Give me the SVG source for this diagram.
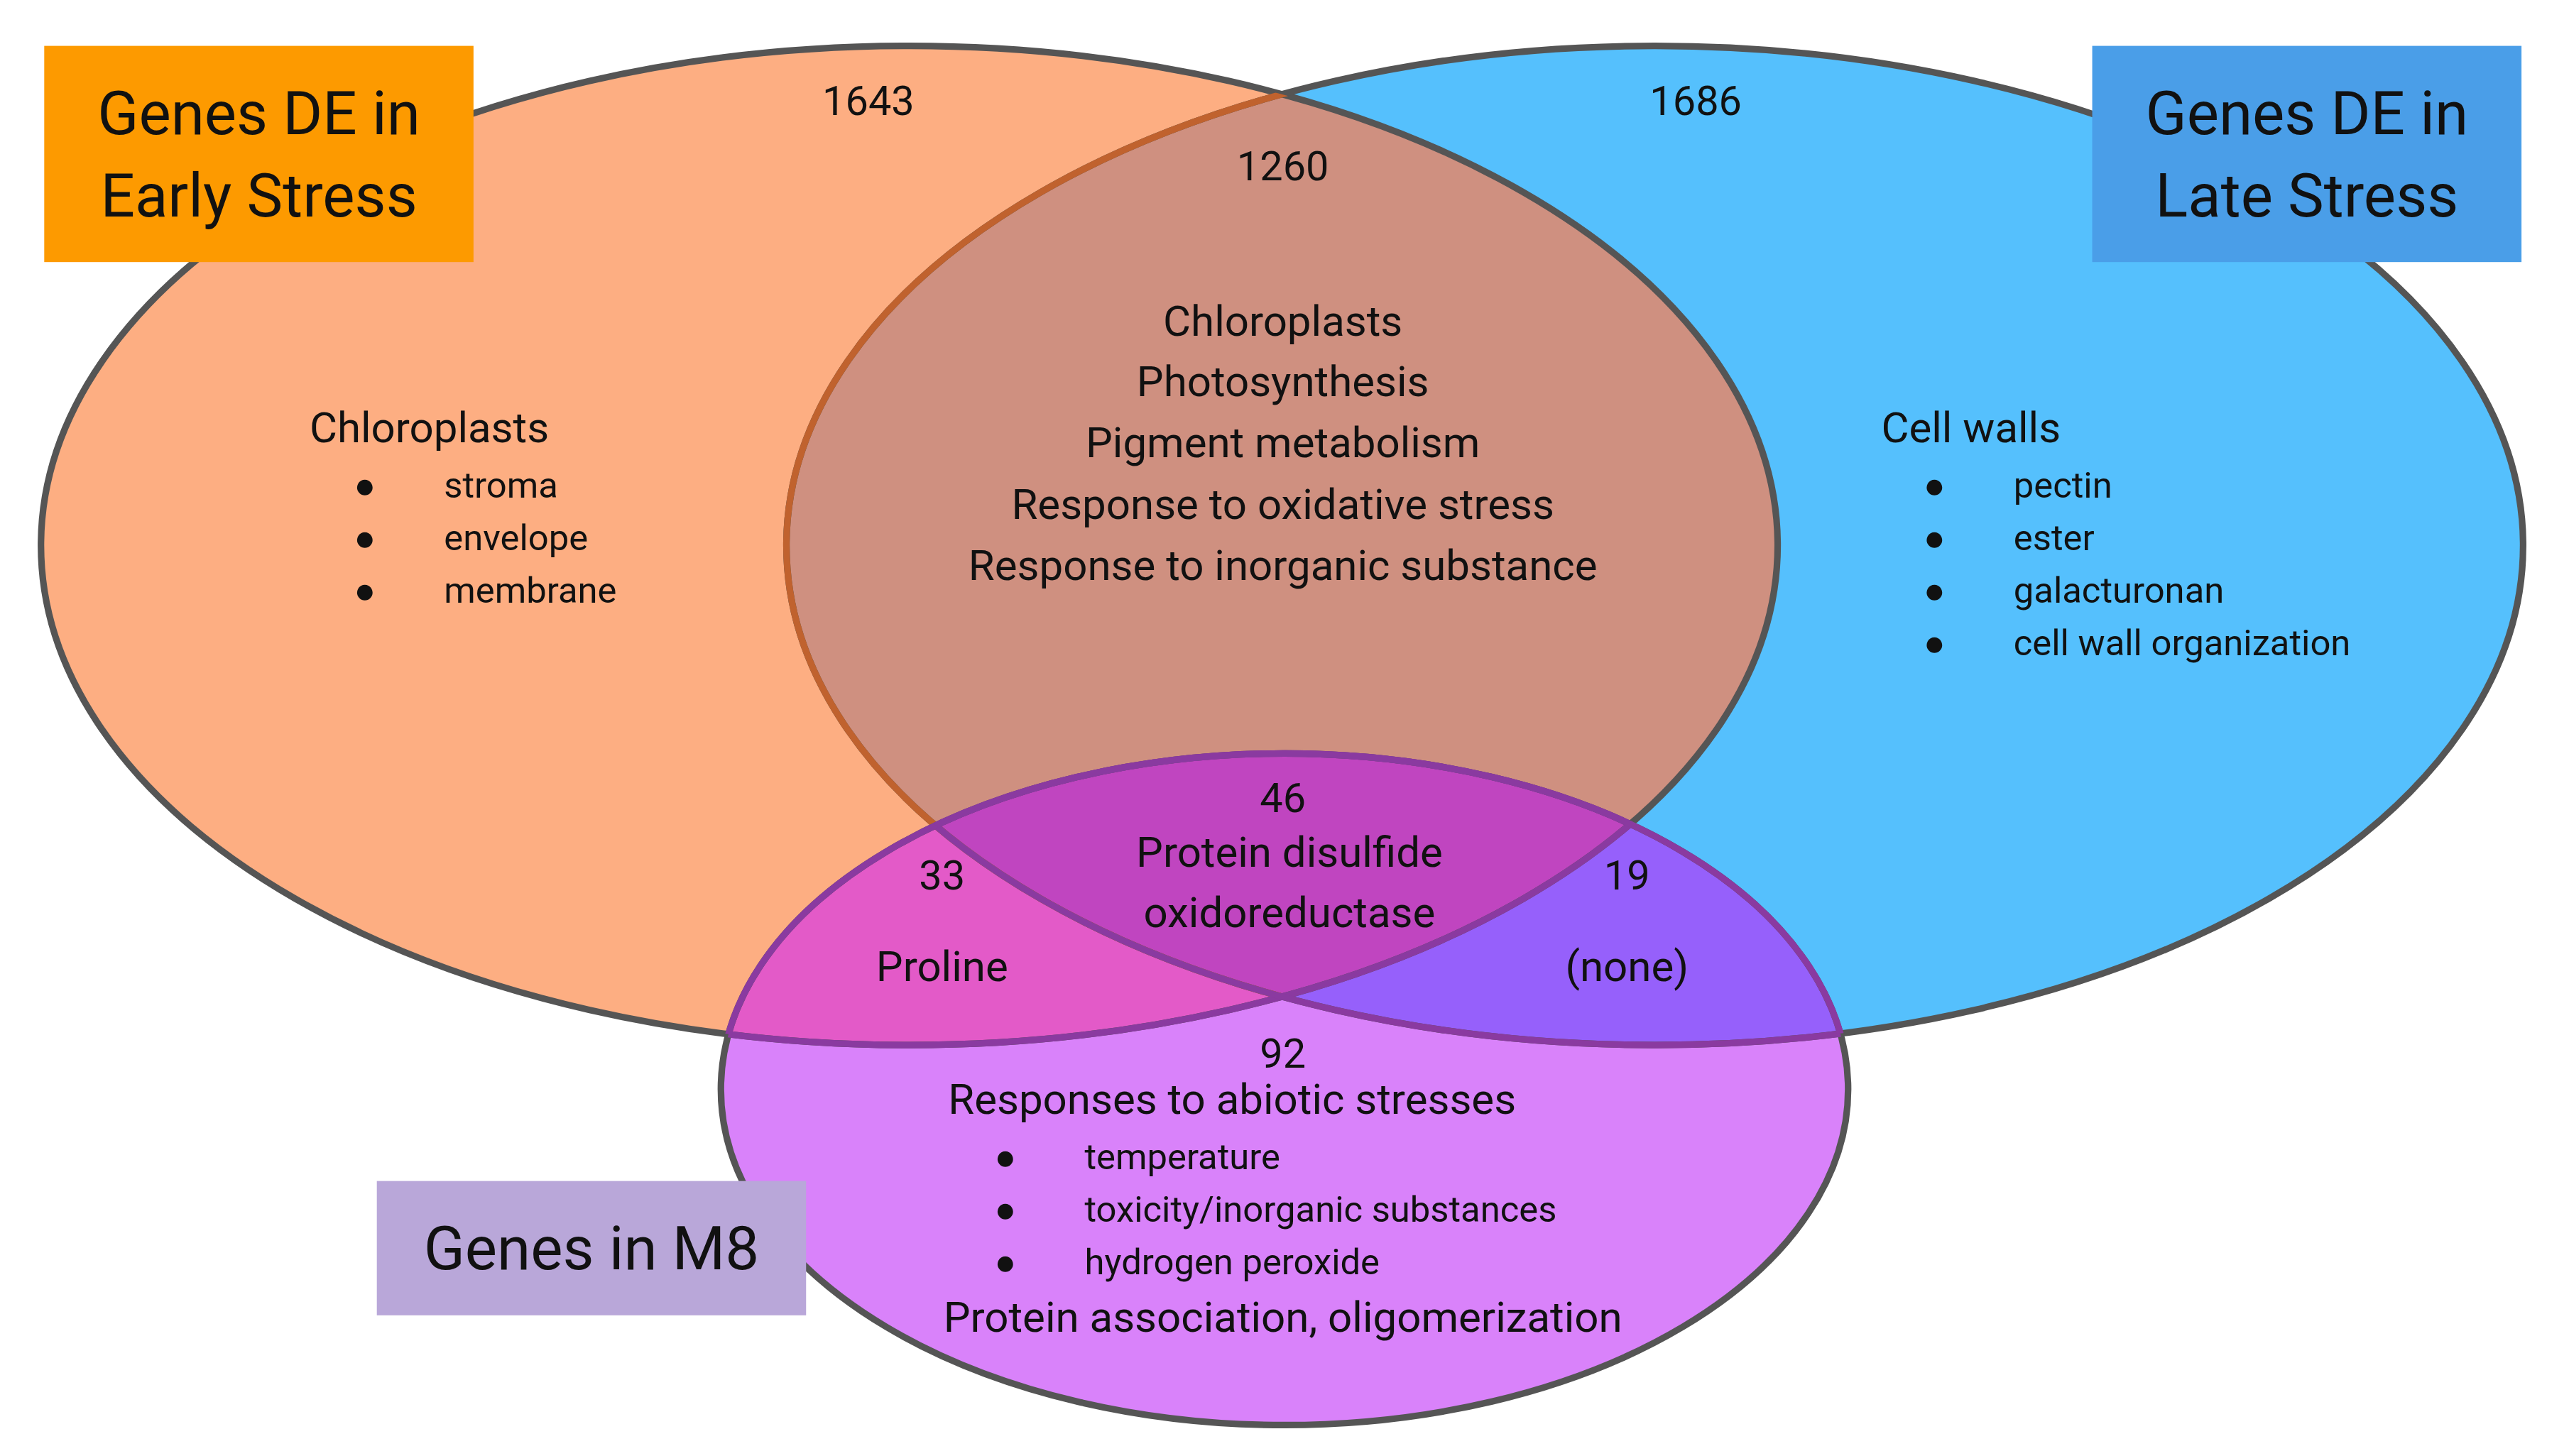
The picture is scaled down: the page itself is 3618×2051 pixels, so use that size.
<svg xmlns="http://www.w3.org/2000/svg" width="3618" height="2051" viewBox="0 0 3618 2051">
<style>
text{font-family:Roboto,"Liberation Sans",sans-serif;fill:#111}
.h{font-size:26px;text-anchor:middle}
.n{font-size:25px;text-anchor:middle}
.b{font-size:22px}
.t{font-size:37px;text-anchor:middle}
.e{stroke:#555;stroke-width:4;fill:none}
</style>
<defs>
<clipPath id="cL"><ellipse cx="555" cy="333" rx="530" ry="305"/></clipPath>
<clipPath id="cR"><ellipse cx="1010" cy="333" rx="530" ry="305"/></clipPath>
<clipPath id="cB"><ellipse cx="784" cy="665" rx="344" ry="205"/></clipPath>
</defs>
<rect width="3618" height="2051" fill="#fff"/>
<g transform="scale(2.3074)">
<g id="sets">
<ellipse cx="555" cy="333" rx="530" ry="305" fill="#fdae82"/>
<ellipse cx="1010" cy="333" rx="530" ry="305" fill="#55c0fd"/>
<ellipse cx="1010" cy="333" rx="530" ry="305" fill="#cf9080" clip-path="url(#cL)"/>
<ellipse cx="784" cy="665" rx="344" ry="205" fill="#d982fa"/>
<g clip-path="url(#cB)">
<ellipse cx="555" cy="333" rx="530" ry="305" fill="#e35ac8"/>
<ellipse cx="1010" cy="333" rx="530" ry="305" fill="#9660fb"/>
<g clip-path="url(#cL)"><ellipse cx="1010" cy="333" rx="530" ry="305" fill="#c045c0"/></g>
</g>
<ellipse class="e" cx="555" cy="333" rx="530" ry="305"/>
<ellipse class="e" cx="1010" cy="333" rx="530" ry="305"/>
<ellipse cx="1010" cy="333" rx="530" ry="305" fill="none" stroke="#c0622e" stroke-width="4" clip-path="url(#cL)"/>
<ellipse class="e" cx="784" cy="665" rx="344" ry="205"/>
<g clip-path="url(#cB)">
<ellipse cx="555" cy="333" rx="530" ry="305" fill="none" stroke="#8a3aa0" stroke-width="4"/>
<ellipse cx="1010" cy="333" rx="530" ry="305" fill="none" stroke="#8a3aa0" stroke-width="4"/>
</g>
<g clip-path="url(#cL)"><ellipse cx="784" cy="665" rx="344" ry="205" fill="none" stroke="#8a3aa0" stroke-width="4"/></g>
<g clip-path="url(#cR)"><ellipse cx="784" cy="665" rx="344" ry="205" fill="none" stroke="#8a3aa0" stroke-width="4"/></g>
</g>
<g id="labelEarly"><rect x="27" y="28" width="262" height="132" fill="#fd9a00"/><text class="t" x="158" y="82">Genes DE in</text><text class="t" x="158" y="132">Early Stress</text></g>
<g id="labelLate"><rect x="1277" y="28" width="262" height="132" fill="#4a9ee8"/><text class="t" x="1408" y="82">Genes DE in</text><text class="t" x="1408" y="132">Late Stress</text></g>
<g id="labelM8"><rect x="230" y="721" width="262" height="82" fill="#b9a7d9"/><text class="t" x="361" y="775">Genes in M8</text></g>
<g id="early">
<text class="n" x="530" y="70">1643</text>
<text class="h" x="262" y="270">Chloroplasts</text>
<g class="b"><text x="216" y="304">●</text><text x="271" y="304">stroma</text><text x="216" y="336">●</text><text x="271" y="336">envelope</text><text x="216" y="368">●</text><text x="271" y="368">membrane</text></g>
</g>
<g id="late">
<text class="n" x="1035" y="70">1686</text>
<text class="h" x="1203" y="270">Cell walls</text>
<g class="b"><text x="1174" y="304">●</text><text x="1229" y="304">pectin</text><text x="1174" y="336">●</text><text x="1229" y="336">ester</text><text x="1174" y="368">●</text><text x="1229" y="368">galacturonan</text><text x="1174" y="400">●</text><text x="1229" y="400">cell wall organization</text></g>
</g>
<g id="earlyLate">
<text class="n" x="783" y="110">1260</text>
<text class="h" x="783" y="205">Chloroplasts</text>
<text class="h" x="783" y="242">Photosynthesis</text>
<text class="h" x="783" y="279">Pigment metabolism</text>
<text class="h" x="783" y="317">Response to oxidative stress</text>
<text class="h" x="783" y="354">Response to inorganic substance</text>
</g>
<g id="all3"><text class="n" x="783" y="496">46</text><text class="h" x="787" y="529">Protein disulfide</text><text class="h" x="787" y="566">oxidoreductase</text></g>
<g id="earlyM8"><text class="n" x="575" y="543">33</text><text class="h" x="575" y="599">Proline</text></g>
<g id="lateM8"><text class="n" x="993" y="543">19</text><text class="h" x="993" y="599">(none)</text></g>
<g id="m8">
<text class="n" x="783" y="652">92</text>
<text class="h" x="752" y="680">Responses to abiotic stresses</text>
<g class="b"><text x="607" y="714">●</text><text x="662" y="714">temperature</text><text x="607" y="746">●</text><text x="662" y="746">toxicity/inorganic substances</text><text x="607" y="778">●</text><text x="662" y="778">hydrogen peroxide</text></g>
<text class="h" x="783" y="813">Protein association, oligomerization</text>
</g>
<g id="connectors"/>
</g>
</svg>
